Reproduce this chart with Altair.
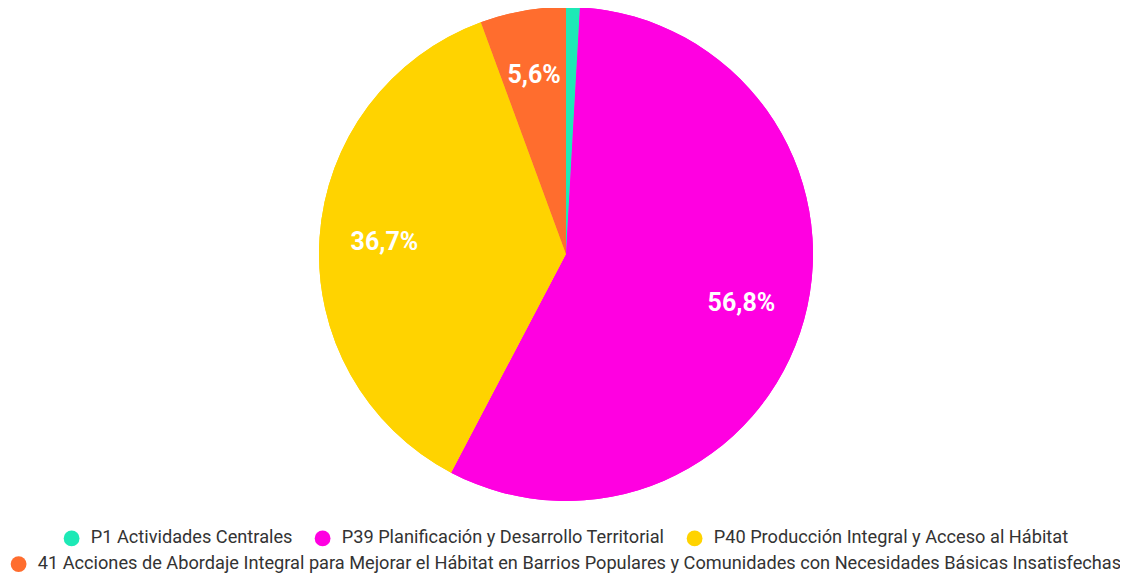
import altair as alt
import pandas as pd

categories = [
    "P1 Actividades Centrales",
    "P39 Planificación y Desarrollo Territorial",
    "P40 Producción Integral y Acceso al Hábitat",
    "41 Acciones de Abordaje Integral para Mejorar el Hábitat en Barrios Populares y Comunidades con Necesidades Básicas Insatisfechas",
]
values = [0.9, 56.8, 36.7, 5.6]
labels = ["", "56,8%", "36,7%", "5,6%"]
colors = ["#1DE9B6", "#FF00E1", "#FFD300", "#FF6D2E"]

df = pd.DataFrame({
    "cat": categories,
    "value": values,
    "label": labels,
    "idx": list(range(len(categories))),
})

CX, CY, R = 558, 246, 247

base = alt.Chart(df).encode(
    theta=alt.Theta("value:Q", stack=True),
    order=alt.Order("idx:O"),
    x=alt.value(CX),
    y=alt.value(CY),
)

legend_common = dict(
    title=None,
    direction="horizontal",
    orient="none",
    symbolType="circle",
    symbolSize=250,
    symbolStrokeWidth=0,
    labelFont="Roboto",
    labelFontSize=18.2,
    labelColor="#333333",
    labelLimit=2000,
    labelOffset=10,
    columnPadding=21,
    padding=0,
)

arcs1 = base.mark_arc(outerRadius=R).encode(
    color=alt.Color(
        "cat:N",
        scale=alt.Scale(domain=categories, range=colors),
        legend=alt.Legend(values=categories[:3], legendX=54.5, legendY=521, **legend_common),
    )
)

arcs2 = base.mark_arc(outerRadius=R).encode(
    color=alt.Color(
        "cat:N",
        scale=alt.Scale(domain=categories, range=colors),
        legend=alt.Legend(values=categories[3:], legendX=1.5, legendY=547, **legend_common),
    )
)

text = base.mark_text(
    radius=182,
    font="Roboto",
    fontSize=25,
    fontWeight="bold",
    color="white",
).encode(text="label:N")

chart = (
    alt.layer(arcs1, arcs2, text)
    .resolve_scale(color="independent")
    .resolve_legend(color="independent")
    .properties(width=1112, height=568, autosize=alt.AutoSizeParams(type="none"), padding=0)
    .configure_view(stroke=None)
)

chart.save("out.html", embed_options={"renderer": "svg", "actions": False})
